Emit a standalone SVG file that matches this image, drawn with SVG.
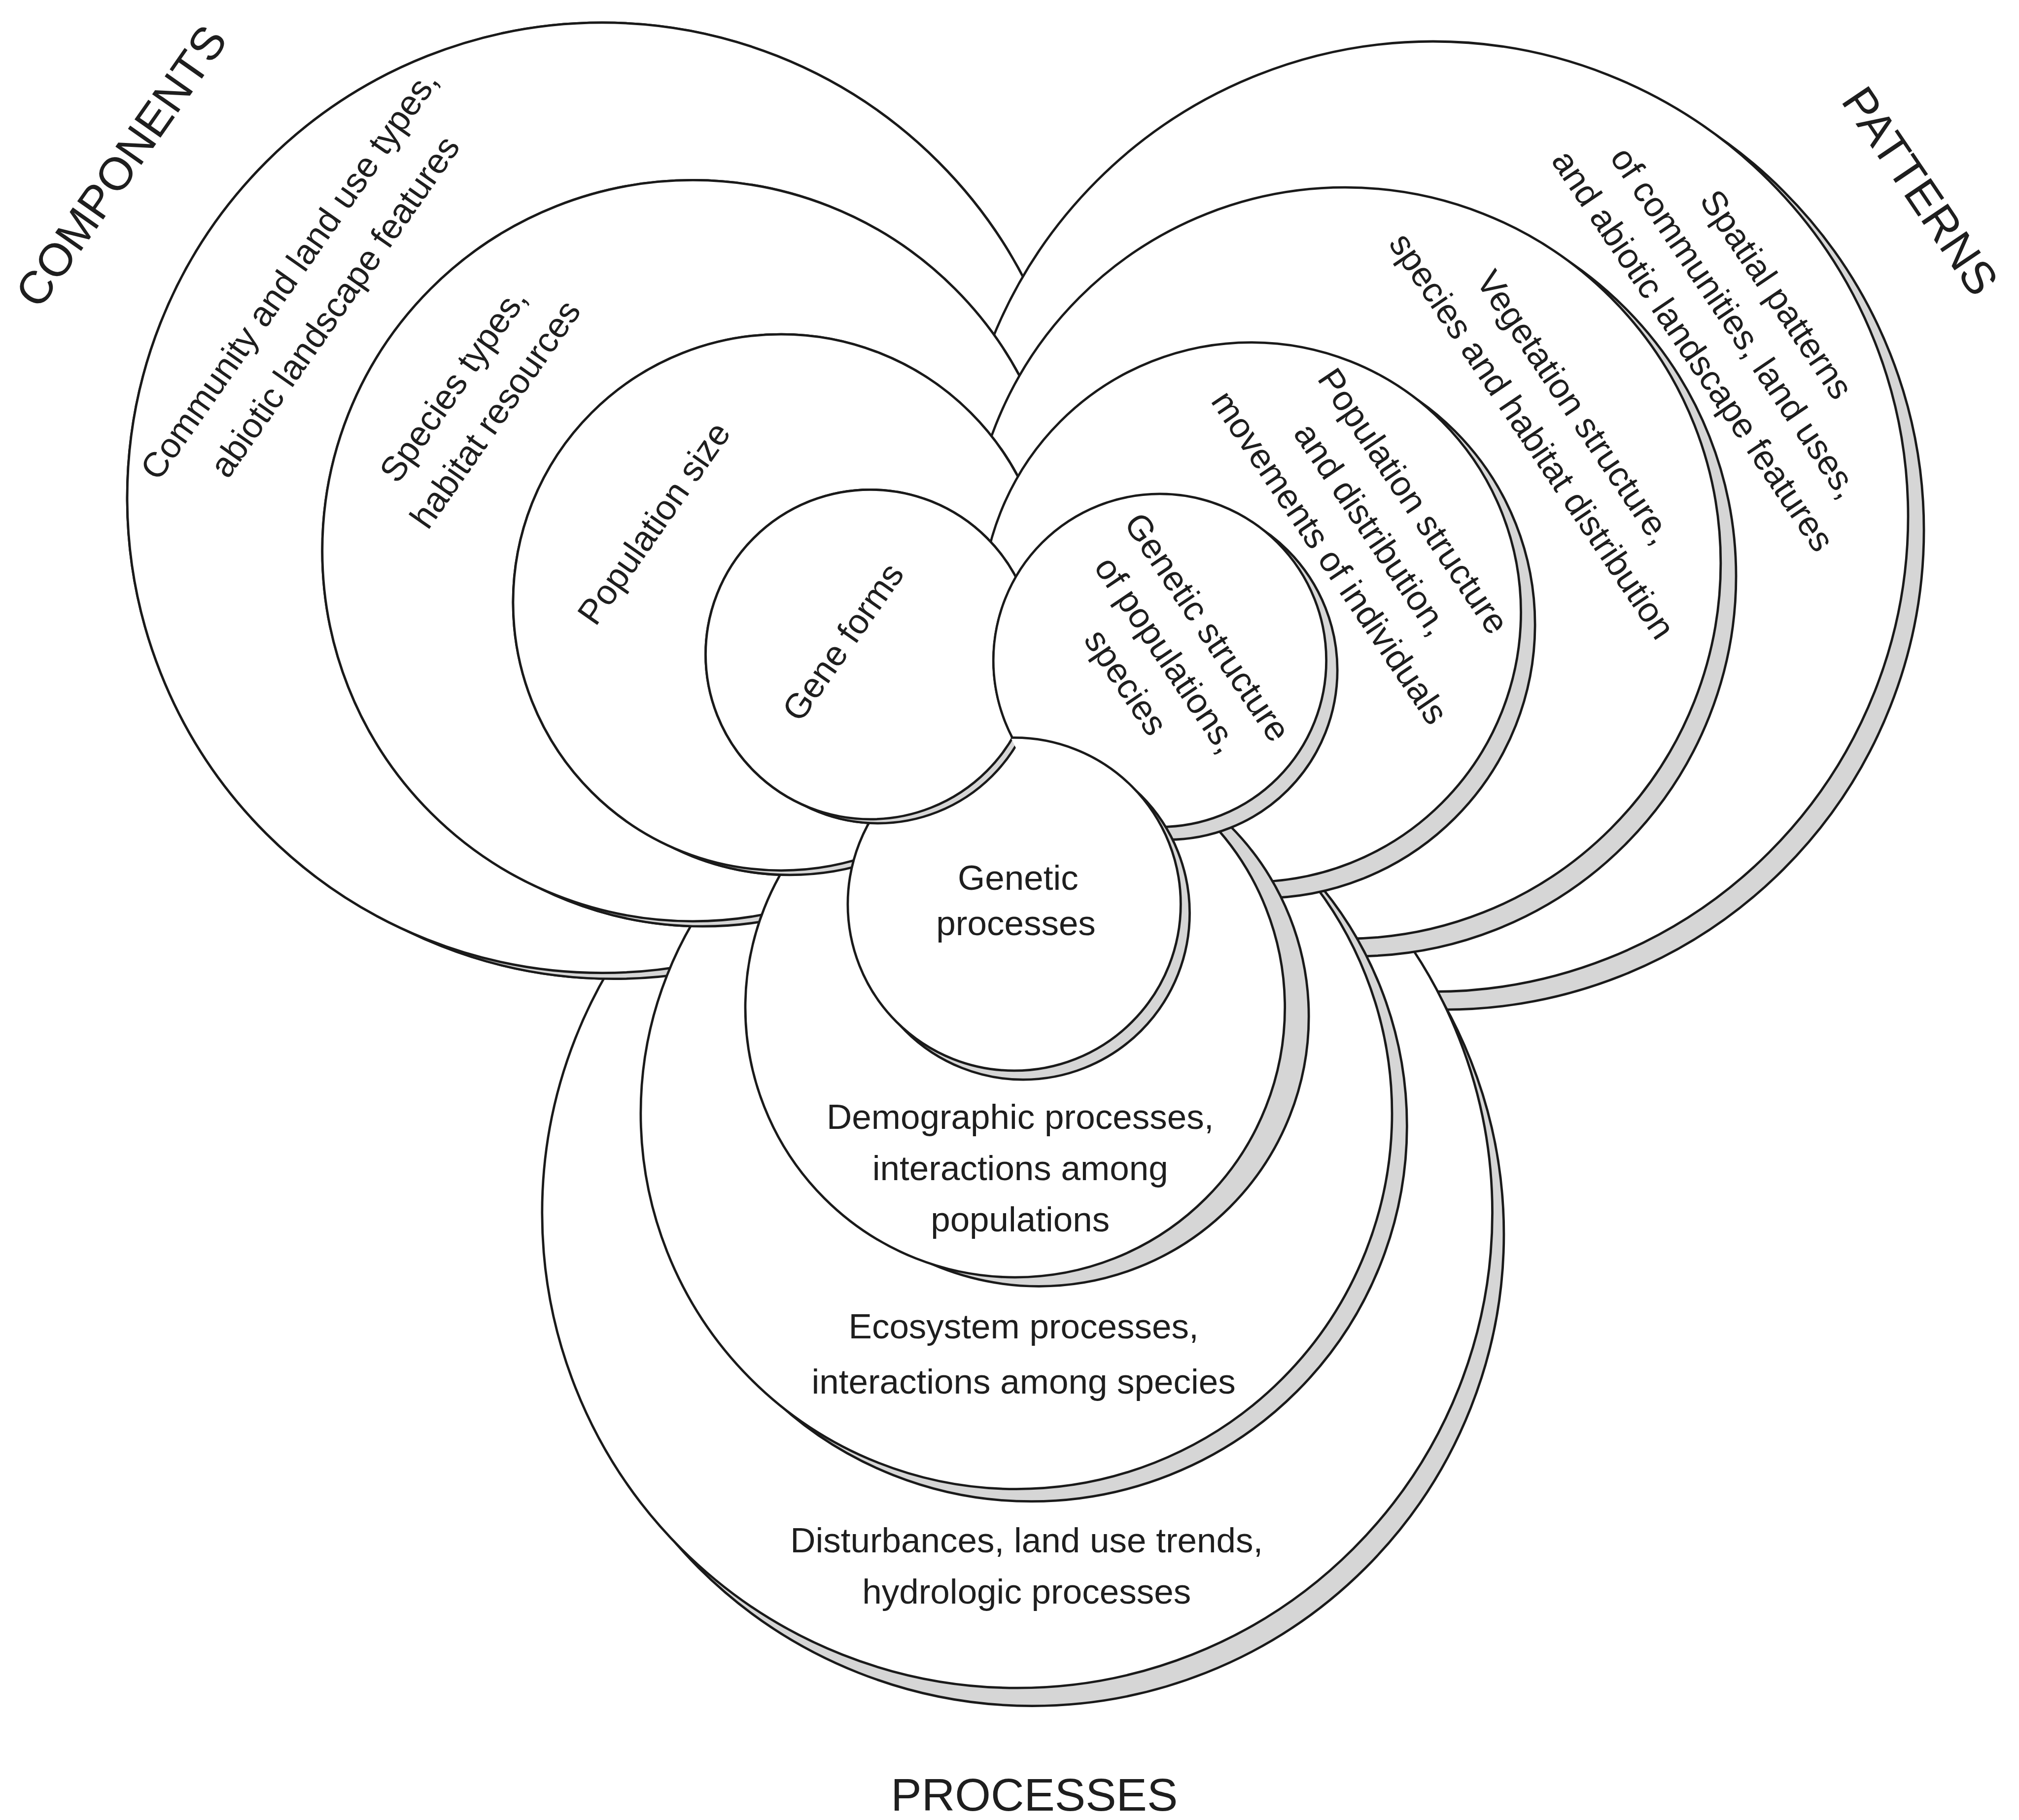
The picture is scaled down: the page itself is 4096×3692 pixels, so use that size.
<svg xmlns="http://www.w3.org/2000/svg" xmlns:xlink="http://www.w3.org/1999/xlink" width="4096" height="3692" viewBox="0 0 4096 3692">
<style>
.f{fill:#fff;stroke:#1a1a1a;stroke-width:5.5}
.b{fill:#d6d6d6;stroke:#1a1a1a;stroke-width:5.5}
text{font-family:"Liberation Sans",Arial,sans-serif;font-size:82px;fill:#1e1e1e;text-anchor:middle}
.t{font-size:108px}
</style>
<defs>
<g id="dC1"><circle class="b" cx="2057" cy="1551" r="377.5"/><circle class="f" cx="2039" cy="1533" r="386"/></g>
<g id="dC2"><circle class="b" cx="1850" cy="1431" r="618.5"/><circle class="f" cx="1830" cy="1411" r="628"/></g>
<g id="dC3"><circle class="b" cx="1646" cy="1313" r="857"/><circle class="f" cx="1623" cy="1290" r="868"/></g>
<g id="dC4"><circle class="b" cx="1438" cy="1193" r="1100"/><circle class="f" cx="1411" cy="1166" r="1113"/></g>
<mask id="m1" maskUnits="userSpaceOnUse" x="-200" y="-200" width="5200" height="4700"><rect x="-200" y="-200" width="5200" height="4700" fill="#fff"/><circle cx="2717" cy="1547" r="393" fill="#000"/><circle cx="2736" cy="1570" r="400" fill="#000"/></mask>
<mask id="m2" maskUnits="userSpaceOnUse" x="-200" y="-200" width="5200" height="4700"><rect x="-200" y="-200" width="5200" height="4700" fill="#fff"/><circle cx="2931" cy="1434" r="635" fill="#000"/><circle cx="2955" cy="1463" r="644" fill="#000"/></mask>
<mask id="m3" maskUnits="userSpaceOnUse" x="-200" y="-200" width="5200" height="4700"><rect x="-200" y="-200" width="5200" height="4700" fill="#fff"/><circle cx="3151" cy="1319" r="883" fill="#000"/><circle cx="3177" cy="1350" r="893" fill="#000"/></mask>
<mask id="m4" maskUnits="userSpaceOnUse" x="-200" y="-200" width="5200" height="4700"><rect x="-200" y="-200" width="5200" height="4700" fill="#fff"/><circle cx="3357" cy="1210" r="1116" fill="#000"/><circle cx="3384" cy="1242" r="1126" fill="#000"/></mask>
</defs>
<rect x="0" y="0" width="4096" height="3692" fill="#fff"/>
<g transform="scale(0.866)">
<g id="level-4">
<use xlink:href="#dC4"/>
<g id="patterns-spatial">
<circle class="b" cx="3384" cy="1242" r="1123"/><circle class="f" cx="3357" cy="1210" r="1113"/>
<g transform="translate(4065,755) rotate(56)"><text y="-89">Spatial patterns</text><text y="29">of communities, land uses,</text><text y="147">and abiotic landscape features</text></g>
</g>
<g id="processes-disturbances">
<circle class="b" cx="2418" cy="2891" r="1105"/><circle class="f" cx="2383" cy="2841" r="1113"/>
<text x="2405" y="3636">Disturbances, land use trends,</text><text x="2405" y="3756">hydrologic processes</text>
</g>
<g id="components-community" mask="url(#m4)">
<use xlink:href="#dC4"/>
<g transform="translate(730,680) rotate(-55)"><text y="-36">Community and land use types,</text><text y="94">abiotic landscape features</text></g>
</g>
</g>
<g id="level-3">
<use xlink:href="#dC3"/>
<g id="patterns-vegetation">
<circle class="b" cx="3177" cy="1350" r="890"/><circle class="f" cx="3151" cy="1319" r="880"/>
<g transform="translate(3640,987) rotate(56)"><text y="-31">Vegetation structure,</text><text y="89">species and habitat distribution</text></g>
</g>
<g id="processes-ecosystem">
<circle class="b" cx="2416" cy="2637" r="880"/><circle class="f" cx="2381" cy="2608" r="880"/>
<text x="2398" y="3135">Ecosystem processes,</text><text x="2398" y="3265">interactions among species</text>
</g>
<g id="components-species" mask="url(#m3)">
<use xlink:href="#dC3"/>
<g transform="translate(1110,935) rotate(-55)"><text y="-31">Species types,</text><text y="89">habitat resources</text></g>
</g>
</g>
<g id="level-2">
<use xlink:href="#dC2"/>
<g id="patterns-population">
<circle class="b" cx="2955" cy="1463" r="641"/><circle class="f" cx="2931" cy="1434" r="632"/>
<g transform="translate(3214,1239) rotate(56)"><text y="-89">Population structure</text><text y="29">and distribution,</text><text y="147">movements of individuals</text></g>
</g>
<g id="processes-demographic">
<circle class="b" cx="2434" cy="2381" r="632"/><circle class="f" cx="2378" cy="2360" r="632"/>
<text x="2390" y="2644">Demographic processes,</text><text x="2390" y="2765">interactions among</text><text x="2390" y="2885">populations</text>
</g>
<g id="components-population" mask="url(#m2)">
<use xlink:href="#dC2"/>
<g transform="translate(1531,1225) rotate(-55)"><text y="29">Population size</text></g>
</g>
</g>
<g id="level-1">
<use xlink:href="#dC1"/>
<g id="patterns-genetic">
<circle class="b" cx="2736" cy="1570" r="397"/><circle class="f" cx="2717" cy="1547" r="390"/>
<g transform="translate(2734,1533) rotate(56)"><text y="-86">Genetic structure</text><text y="29">of populations,</text><text y="144">species</text></g>
</g>
<g id="processes-genetic">
<circle class="b" cx="2397" cy="2139" r="390"/><circle class="f" cx="2376" cy="2118" r="390"/>
<text x="2385" y="2084">Genetic</text><text x="2380" y="2190">processes</text>
</g>
<g id="components-gene" mask="url(#m1)">
<use xlink:href="#dC1"/>
<g transform="translate(1974,1503) rotate(-55)"><text y="29">Gene forms</text></g>
</g>
</g>
<g id="titles">
<g transform="translate(283,389) rotate(-55)"><text class="t" y="38">COMPONENTS</text></g>
<g transform="translate(4499,447) rotate(56)"><text class="t" y="38">PATTERNS</text></g>
<text class="t" x="2423" y="4241">PROCESSES</text>
</g>
</g>
</svg>
